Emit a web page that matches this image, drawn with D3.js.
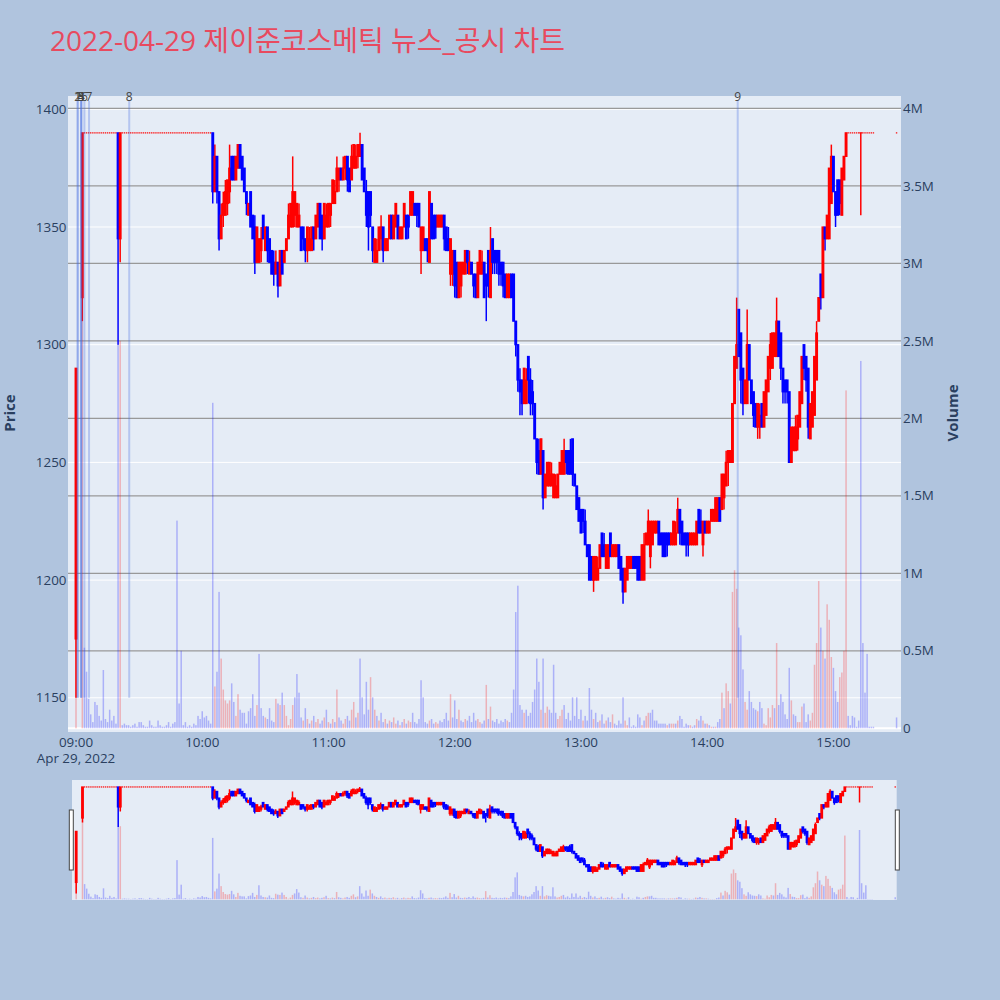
<!DOCTYPE html>
<html><head><meta charset="utf-8">
<script src="https://cdn.jsdelivr.net/npm/d3@7"></script>
<style>
body{margin:0;background:#b0c4de;}
svg{display:block;font-family:"Open Sans","Noto Sans CJK KR",sans-serif;}
</style></head><body>
<svg id="c" width="1000" height="1000"></svg>
<script>
// ---------------- DATA ----------------
const titleText = "2022-04-29 제이준코스메틱 뉴스_공시 차트";
// minutes after 09:00
const minute = [0,3,
4,5,6,7,8,9,10,11,12,13,14,15,16,17,18,19,
20,21,
22,23,24,25,26,27,28,29,30,31,32,33,34,35,36,37,38,39,40,41,42,43,44,45,46,47,48,49,50,51,52,53,54,55,56,57,58,59,60,61,62,63,64,
65,66,67,68,69,70,71,72,73,74,
75,76,77,78,79,80,81,82,83,84,
85,86,87,88,89,90,91,92,93,94,
95,96,97,98,99,100,101,102,103,104,
105,106,107,108,109,110,111,112,113,114,
115,116,117,118,119,120,121,122,123,124,
125,126,127,128,129,130,131,132,133,134,
135,136,137,138,139,140,141,142,143,144,
145,146,147,148,149,150,151,152,153,154,
155,156,157,158,159,160,161,162,163,164,
165,166,167,168,169,170,171,172,173,174,
175,176,177,178,179,180,181,182,183,184,
185,186,187,188,189,190,191,192,193,194,
195,196,197,198,199,200,201,202,203,204,
205,206,207,208,209,210,211,212,213,214,
215,216,217,218,219,220,221,222,223,224,
225,226,227,228,229,230,231,232,233,234,
235,236,237,238,239,240,241,242,243,244,
245,246,247,248,249,250,251,252,253,254,
255,256,257,258,259,260,261,262,263,264,
265,266,267,268,269,270,271,272,273,274,
275,276,277,278,279,280,281,282,283,284,
285,286,287,288,289,290,291,292,293,294,
295,296,297,298,299,300,301,302,303,304,
305,306,307,308,309,310,311,312,313,314,
315,316,317,318,319,320,321,322,323,324,
325,326,327,328,329,330,331,332,333,334,
335,336,337,338,339,340,341,342,343,344,
345,346,347,348,349,350,351,352,353,354,
355,356,357,358,359,360,361,362,363,364,
365,366,367,368,369,370,371,372,373,374,
375,376,377,378,379,
390];

const open = [1175,1320,
1390,1390,1390,1390,1390,1390,1390,1390,1390,1390,1390,1390,1390,1390,1390,1390,
1390,1345,
1390,1390,1390,1390,1390,1390,1390,1390,1390,1390,
1390,1390,1390,1390,1390,1390,1390,1390,1390,1390,
1390,1390,1390,1390,1390,1390,1390,1390,1390,1390,
1390,1390,1390,1390,1390,1390,1390,1390,1390,1390,
1390,1390,1390,
1390,1365,1380,1365,1345,1355,1355,1360,1365,1380,
1380,1370,1375,1385,1380,1375,1365,1355,1365,1355,
1350,1335,1335,1340,1355,1340,1350,1345,1340,1335,
1330,1335,1325,1340,1335,1340,1345,1350,1350,1355,
1350,1350,1350,1350,1345,1340,1340,1340,1350,1345,
1350,1360,1355,1345,1350,1350,1355,1360,1360,1365,
1370,1375,1370,1375,1380,1375,1370,1375,1375,1380,
1380,1385,1375,1365,1365,1365,1350,1335,1335,1340,
1345,1350,1340,1340,1345,1355,1345,1350,1355,1345,
1345,1350,1355,1355,1355,1355,1360,1360,1360,1340,
1340,1345,1345,1335,1360,1355,1355,1350,1350,1350,
1355,1350,1345,1330,1330,1340,1335,1320,1325,1330,
1330,1340,1330,1335,1330,1330,1320,1330,1330,1335,
1330,1340,1320,1345,1340,1340,1340,1335,1335,1330,
1320,1320,1330,1330,1310,1300,1285,1285,1275,1275,
1295,1285,1280,1275,1260,1255,1245,1255,1235,1240,
1240,1240,1235,1235,1235,1245,1245,1245,1255,1255,
1255,1260,1245,1240,1235,1230,1230,1225,1215,1215,
1210,1200,1200,1200,1205,1220,1215,1205,1205,1220,
1210,1210,1210,1215,1210,1205,1195,1200,1205,1205,
1210,1210,1210,1210,1200,1200,1215,1215,1210,1215,
1220,1220,1225,1220,1220,1220,1220,1220,1215,1215,
1215,1220,1230,1225,1220,1220,1220,1215,1215,1215,
1215,1230,1225,1215,1225,1220,1220,1225,1225,1225,
1225,1235,1230,1235,1240,1250,1250,1250,1275,1290,
1315,1305,1290,1275,1275,1300,1285,1280,1275,1265,
1265,1275,1265,1270,1280,1290,1290,1295,1295,1310,
1305,1290,1285,1285,1280,1250,1255,1255,1260,1265,
1275,1300,1295,1290,1260,1265,1270,1285,1310,1330,
1320,1350,1345,1345,1360,1380,1365,1370,1370,1355,
1370,1380,1390,1390,1390,1390,1390,1390,1390,1390,
1390,1390,1390,1390,1390,
1390];

const high = [1290,1390,
1390,1390,1390,1390,1390,1390,1390,1390,1390,1390,1390,1390,1390,1390,1390,1390,
1390,1390,
1390,1390,1390,1390,1390,1390,1390,1390,1390,1390,
1390,1390,1390,1390,1390,1390,1390,1390,1390,1390,
1390,1390,1390,1390,1390,1390,1390,1390,1390,1390,
1390,1390,1390,1390,1390,1390,1390,1390,1390,1390,
1390,1390,1390,
1390,1385,1380,1365,1360,1365,1370,1370,1385,1380,
1380,1380,1385,1385,1380,1375,1365,1360,1365,1355,
1355,1350,1345,1350,1355,1350,1350,1345,1340,1340,
1340,1335,1340,1340,1340,1345,1360,1360,1380,1365,
1360,1360,1350,1350,1345,1350,1350,1350,1350,1355,
1360,1360,1355,1360,1360,1360,1360,1370,1370,1380,
1375,1375,1380,1380,1380,1375,1385,1385,1385,1385,
1390,1385,1375,1370,1365,1365,1350,1345,1345,1350,
1355,1350,1345,1345,1355,1355,1355,1360,1355,1350,
1350,1360,1355,1355,1365,1365,1360,1360,1360,1350,
1350,1345,1345,1365,1360,1355,1355,1355,1355,1355,
1355,1350,1350,1345,1340,1340,1335,1335,1335,1335,
1340,1340,1340,1335,1330,1330,1335,1340,1340,1335,
1330,1340,1350,1345,1340,1340,1340,1335,1335,1330,
1330,1330,1330,1330,1310,1300,1290,1285,1290,1290,
1295,1290,1285,1275,1260,1260,1260,1255,1245,1250,
1250,1250,1245,1245,1245,1250,1255,1260,1255,1255,
1260,1260,1245,1240,1235,1230,1230,1230,1215,1215,
1210,1210,1210,1210,1215,1220,1220,1215,1215,1220,
1215,1215,1215,1215,1210,1205,1205,1210,1210,1210,
1210,1210,1210,1210,1215,1220,1220,1230,1225,1225,
1225,1225,1225,1220,1220,1220,1220,1220,1220,1225,
1225,1235,1230,1225,1220,1220,1220,1220,1220,1220,
1225,1230,1230,1225,1225,1225,1225,1230,1230,1235,
1235,1235,1245,1245,1255,1255,1255,1275,1295,1320,
1315,1305,1290,1285,1315,1300,1285,1280,1275,1275,
1275,1275,1280,1285,1295,1305,1305,1305,1320,1310,
1305,1290,1285,1285,1280,1265,1265,1270,1270,1280,
1295,1300,1295,1290,1275,1280,1295,1310,1320,1330,
1350,1350,1355,1375,1385,1380,1365,1370,1370,1375,
1380,1390,1390,1390,1390,1390,1390,1390,1390,1390,
1390,1390,1390,1390,1390,
1390];

const low = [1150,1310,
1390,1390,1390,1390,1390,1390,1390,1390,1390,1390,1390,1390,1390,1390,1390,1390,
1300,1335,
1390,1390,1390,1390,1390,1390,1390,1390,1390,1390,
1390,1390,1390,1390,1390,1390,1390,1390,1390,1390,
1390,1390,1390,1390,1390,1390,1390,1390,1390,1390,
1390,1390,1390,1390,1390,1390,1390,1390,1390,1390,
1390,1390,1390,
1360,1365,1360,1340,1345,1350,1355,1355,1360,1370,
1370,1370,1375,1375,1370,1365,1355,1355,1350,1345,
1330,1335,1335,1335,1345,1340,1335,1335,1330,1325,
1330,1320,1325,1330,1335,1340,1345,1350,1350,1350,
1350,1350,1340,1340,1335,1335,1340,1340,1340,1345,
1350,1345,1340,1345,1350,1350,1350,1360,1360,1365,
1365,1370,1370,1370,1365,1365,1370,1375,1375,1375,
1380,1370,1365,1350,1340,1350,1335,1335,1335,1340,
1340,1335,1340,1340,1345,1345,1345,1350,1345,1345,
1345,1350,1345,1345,1355,1355,1355,1350,1350,1330,
1340,1340,1335,1335,1345,1345,1345,1350,1350,1350,
1340,1340,1340,1325,1325,1320,1320,1320,1320,1330,
1330,1330,1330,1330,1320,1320,1320,1330,1330,1320,
1310,1320,1320,1330,1330,1330,1325,1325,1320,1320,
1320,1320,1320,1310,1295,1280,1270,1270,1275,1275,
1275,1270,1270,1260,1245,1245,1245,1230,1235,1240,
1240,1240,1235,1235,1235,1245,1245,1245,1245,1245,
1245,1240,1240,1230,1225,1220,1220,1215,1210,1200,
1200,1195,1200,1200,1205,1210,1210,1205,1205,1210,
1210,1210,1210,1205,1200,1190,1195,1200,1205,1205,
1205,1205,1200,1200,1200,1200,1215,1215,1205,1215,
1220,1220,1215,1215,1210,1210,1210,1215,1215,1215,
1215,1220,1215,1215,1215,1210,1210,1215,1215,1215,
1215,1220,1220,1210,1220,1220,1220,1225,1225,1225,
1225,1225,1230,1230,1240,1240,1250,1250,1275,1290,
1295,1275,1270,1275,1275,1285,1275,1265,1265,1260,
1260,1265,1265,1270,1280,1285,1290,1295,1295,1295,
1285,1275,1275,1275,1250,1250,1255,1255,1255,1265,
1275,1285,1280,1260,1260,1265,1270,1285,1310,1315,
1320,1340,1345,1345,1360,1365,1350,1355,1355,1355,
1370,1380,1390,1390,1390,1390,1390,1390,1355,1390,
1390,1390,1390,1390,1390,
1390];

const close = [1290,1390,
1390,1390,1390,1390,1390,1390,1390,1390,1390,1390,1390,1390,1390,1390,1390,1390,
1345,1390,
1390,1390,1390,1390,1390,1390,1390,1390,1390,1390,
1390,1390,1390,1390,1390,1390,1390,1390,1390,1390,
1390,1390,1390,1390,1390,1390,1390,1390,1390,1390,
1390,1390,1390,1390,1390,1390,1390,1390,1390,1390,
1390,1390,1390,
1365,1380,1365,1345,1355,1360,1365,1370,1375,1370,
1370,1380,1385,1375,1370,1365,1360,1360,1350,1345,
1335,1350,1345,1345,1345,1350,1340,1335,1330,1330,
1335,1325,1340,1330,1340,1345,1355,1360,1365,1365,
1360,1355,1340,1345,1340,1350,1345,1350,1345,1355,
1360,1345,1345,1360,1355,1360,1360,1370,1365,1375,
1375,1370,1375,1380,1370,1365,1380,1385,1380,1385,
1385,1370,1365,1355,1350,1355,1340,1345,1340,1350,
1350,1340,1345,1345,1355,1345,1355,1360,1345,1350,
1350,1360,1345,1350,1365,1365,1355,1355,1350,1350,
1350,1340,1340,1365,1345,1345,1350,1355,1355,1355,
1345,1340,1340,1345,1340,1325,1320,1335,1335,1335,
1340,1335,1335,1330,1325,1320,1335,1340,1335,1320,
1325,1325,1340,1335,1335,1335,1330,1330,1325,1320,
1330,1330,1320,1310,1300,1285,1280,1275,1290,1285,
1285,1275,1275,1260,1250,1245,1260,1235,1245,1250,
1250,1245,1245,1240,1245,1250,1255,1255,1250,1245,
1245,1245,1240,1230,1225,1220,1225,1215,1210,1200,
1200,1210,1210,1205,1215,1210,1210,1215,1215,1210,
1215,1215,1215,1205,1200,1195,1205,1210,1210,1210,
1205,1205,1200,1200,1215,1215,1220,1225,1225,1225,
1225,1225,1215,1215,1210,1210,1215,1215,1220,1225,
1220,1230,1220,1215,1215,1215,1215,1220,1220,1220,
1225,1220,1220,1225,1220,1225,1225,1230,1230,1235,
1235,1225,1245,1245,1250,1255,1255,1275,1295,1300,
1295,1285,1275,1285,1300,1285,1275,1270,1265,1275,
1270,1265,1280,1285,1295,1300,1305,1305,1310,1295,
1290,1280,1280,1280,1250,1265,1265,1265,1270,1280,
1295,1290,1285,1265,1275,1280,1295,1305,1320,1320,
1350,1345,1355,1375,1380,1365,1355,1355,1360,1375,
1380,1390,1390,1390,1390,1390,1390,1390,1390,1390,
1390,1390,1390,1390,1390,
1390];

// volume in thousands of shares
const volumeK = [780,2700,
520,365,190,90,40,170,150,80,50,376,60,40,120,50,80,30,
2480,2500,
20,30,20,20,10,20,30,10,40,40,
20,10,10,50,20,10,10,50,20,10,
10,20,40,10,30,40,1340,160,500,20,
40,10,20,10,30,20,80,60,110,70,
80,50,30,
2100,270,365,880,450,250,180,160,180,290,
170,80,220,120,100,100,30,110,130,220,
80,150,480,130,80,70,60,130,50,40,
190,160,150,230,150,80,20,60,150,200,
350,230,70,50,130,60,30,50,80,40,
60,30,50,70,120,40,30,60,40,250,
70,50,30,60,80,50,120,170,70,100,
450,200,90,300,120,330,200,120,80,50,
100,40,60,30,50,40,70,30,50,20,
40,60,30,50,40,100,40,30,60,310,
200,40,30,50,60,30,40,30,50,40,
60,100,50,220,70,180,60,120,50,40,
60,50,80,40,100,50,60,40,30,50,
280,60,140,50,40,60,30,50,40,60,
50,40,100,250,750,920,150,120,100,120,
80,100,170,250,450,300,120,450,100,140,
120,100,410,100,60,80,120,150,60,100,
50,200,80,200,60,120,50,80,50,260,
120,60,100,40,50,90,30,50,70,40,
90,30,20,50,30,200,50,20,70,10,
20,10,90,70,20,50,80,100,100,120,
50,50,30,30,30,30,20,30,30,30,
30,50,80,60,10,30,20,20,10,20,
60,50,80,50,30,30,20,10,10,10,
40,60,230,130,290,240,160,880,1020,900,
650,600,380,170,120,240,170,130,120,110,
170,130,30,20,130,70,150,130,550,150,
220,170,90,60,390,180,90,80,40,40,
140,160,40,90,50,100,410,550,950,650,
500,450,800,700,460,390,240,170,330,360,
500,2180,80,20,80,70,10,50,2370,550,
230,480,10,10,10,
70];

const newsLabels = ["1","2","3","4","5","6","7","8","9"];
const newsMinute = [0.8,0.8,2.5,2.5,2.5,4,6.2,25.3,314.5];

const xTickMinutes = [0,60,120,180,240,300,360];
const xTickLabels = ["09:00","10:00","11:00","12:00","13:00","14:00","15:00"];
const dateLabel = "Apr 29, 2022";
const priceTicks = [1150,1200,1250,1300,1350,1400];
const volTicks = [0,500000,1000000,1500000,2000000,2500000,3000000,3500000,4000000];
const volTickLabels = ["0","0.5M","1M","1.5M","2M","2.5M","3M","3.5M","4M"];

// ---------------- BUILD ----------------
const n = minute.length;
[open,high,low,close,volumeK].forEach((a,k)=>{ if(a.length!==n) throw new Error("length mismatch "+k+": "+a.length+" vs "+n); });
const rows = minute.map((m,i)=>({m, o:open[i], h:high[i], l:low[i], c:close[i], v:volumeK[i]*1000,
  volUp: i===0 ? true : close[i] > close[i-1]}));

const RED="#ff0000", BLUE="#0000ff";
const svg = d3.select("#c");
const P = {l:68, r:901, t:96, b:732};
const S = {l:72, r:896.7, t:780, b:900};

const x = d3.scaleLinear().domain([-3.8, 392.11]).range([P.l, P.r]);
const yP = d3.scaleLinear().domain([1135.47, 1405.65]).range([P.b, P.t]);
const yV = d3.scaleLinear().domain([-23900, 4079400]).range([P.b, P.t]);

const xs = d3.scaleLinear().domain([-2, 390.7]).range([S.l, S.r]);
const ysP = d3.scaleLinear().domain([1135.47, 1405.65]).range([S.b, S.t]);
const ysV = d3.scaleLinear().domain([-23900, 4079400]).range([S.b, S.t]);

const defs = svg.append("defs");
defs.append("clipPath").attr("id","cp").append("rect").attr("x",P.l).attr("y",P.t).attr("width",P.r-P.l).attr("height",P.b-P.t);
defs.append("clipPath").attr("id","cs").append("rect").attr("x",S.l).attr("y",S.t).attr("width",S.r-S.l).attr("height",S.b-S.t);

// title
svg.append("text").attr("x",50).attr("y",51).attr("font-size",28).attr("fill","#e84a5f").text(titleText);

// main plot bg
svg.append("rect").attr("x",P.l).attr("y",P.t).attr("width",P.r-P.l).attr("height",P.b-P.t).attr("fill","#e5ecf6");

const gridG = svg.append("g");
gridG.selectAll("line.pg").data(priceTicks).join("line").attr("class","pg")
  .attr("x1",P.l).attr("x2",P.r).attr("y1",d=>yP(d)).attr("y2",d=>yP(d)).attr("stroke","#ffffff").attr("stroke-width",1);
gridG.selectAll("line.vg").data(volTicks.filter(v=>v>0)).join("line").attr("class","vg")
  .attr("x1",P.l).attr("x2",P.r).attr("y1",d=>yV(d)).attr("y2",d=>yV(d)).attr("stroke","#999999").attr("stroke-width",1.2);
gridG.append("line").attr("x1",P.l).attr("x2",P.r).attr("y1",yV(0)).attr("y2",yV(0)).attr("stroke","#ffffff").attr("stroke-width",2);

function drawVolume(g, xsc, ysc, w){
  g.selectAll("rect").data(rows).join("rect")
    .attr("x",d=>xsc(d.m)-w/2).attr("width",w)
    .attr("y",d=>ysc(d.v)).attr("height",d=>Math.max(0,ysc(0)-ysc(d.v)))
    .attr("fill",d=>d.volUp?RED:BLUE).attr("fill-opacity",0.25);
}
function drawCandles(g, xsc, ysc, bw, ww){
  const flat = rows.filter(d=>d.h===d.l);
  const act = rows.filter(d=>d.h!==d.l);
  g.selectAll("rect.flat").data(flat).join("rect").attr("class","flat")
    .attr("x",d=>xsc(d.m)-0.7).attr("width",1.4)
    .attr("y",d=>ysc(d.h)-0.8).attr("height",1.6)
    .attr("fill",RED).attr("fill-opacity",0.75);
  g.selectAll("line.wick").data(act).join("line").attr("class","wick")
    .attr("x1",d=>xsc(d.m)).attr("x2",d=>xsc(d.m))
    .attr("y1",d=>ysc(d.h)).attr("y2",d=>ysc(d.l))
    .attr("stroke",d=>d.c>=d.o?RED:BLUE).attr("stroke-width",ww);
  g.selectAll("rect.body").data(act).join("rect").attr("class","body")
    .attr("x",d=>xsc(d.m)-bw/2).attr("width",bw)
    .attr("y",d=>Math.min(ysc(d.o),ysc(d.c))-0.6)
    .attr("height",d=>Math.abs(ysc(d.o)-ysc(d.c))+1.2)
    .attr("fill",d=>d.c>=d.o?RED:BLUE);
}

const main = svg.append("g").attr("clip-path","url(#cp)");
drawVolume(main.append("g"), x, yV, 1.5);
drawCandles(main.append("g"), x, yP, 2.9, 1.5);

// news lines & labels
const newsG = svg.append("g");
newsG.selectAll("line").data(newsMinute).join("line")
  .attr("x1",d=>x(d)).attr("x2",d=>x(d)).attr("y1",101).attr("y2",yP(1150))
  .attr("stroke","rgb(65,105,225)").attr("stroke-opacity",0.3).attr("stroke-width",2);
newsG.selectAll("text").data(newsLabels).join("text")
  .attr("x",(d,i)=>x(newsMinute[i])).attr("y",101).attr("text-anchor","middle")
  .attr("font-size",12).attr("fill","#444").text(d=>d);

// axes text
const axG = svg.append("g").attr("fill","#2a3f5f").attr("font-size",13.4);
axG.selectAll("text.xt").data(xTickMinutes).join("text").attr("class","xt")
  .attr("x",d=>x(d)).attr("y",747).attr("text-anchor","middle").text((d,i)=>xTickLabels[i]);
axG.append("text").attr("x",x(0)).attr("y",763).attr("text-anchor","middle").text(dateLabel);
axG.selectAll("text.yl").data(priceTicks).join("text").attr("class","yl")
  .attr("x",66.5).attr("y",d=>yP(d)+4.7).attr("text-anchor","end").text(d=>d);
axG.selectAll("text.yr").data(volTicks).join("text").attr("class","yr")
  .attr("x",903).attr("y",d=>yV(d)+4.7).attr("text-anchor","start").text((d,i)=>volTickLabels[i]);
svg.append("text").attr("transform","translate(15,413) rotate(-90)").attr("text-anchor","middle")
  .attr("font-size",15).attr("font-weight","bold").attr("fill","#2a3f5f").text("Price");
svg.append("text").attr("transform","translate(958,413) rotate(-90)").attr("text-anchor","middle")
  .attr("font-size",15).attr("font-weight","bold").attr("fill","#2a3f5f").text("Volume");

// range slider
svg.append("rect").attr("x",S.l).attr("y",S.t).attr("width",S.r-S.l).attr("height",S.b-S.t).attr("fill","#e5ecf6");
const sl = svg.append("g").attr("clip-path","url(#cs)");
drawVolume(sl.append("g"), xs, ysV, 1.5);
drawCandles(sl.append("g"), xs, ysP, 2.8, 1.5);
[[69.3],[895.3]].forEach(([hx])=>{
  svg.append("rect").attr("x",hx).attr("y",810).attr("width",4).attr("height",60)
    .attr("fill","#ffffff").attr("stroke","#444").attr("stroke-width",1);
});
</script>
</body></html>
